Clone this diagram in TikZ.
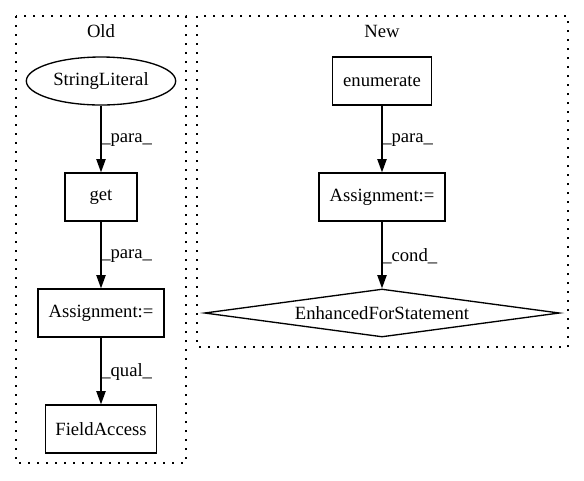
\documentclass[tikz,border=0pt]{standalone}
\usepackage{fontspec}
\setmainfont{Liberation Serif}
\usetikzlibrary{shapes.geometric,arrows.meta}
\begin{document}
\begin{tikzpicture}[x=0.75pt,y=-0.75pt,
  every node/.style={font=\fontsize{14pt}{16.8pt}\selectfont, inner sep=0pt},
  box/.style={draw, line width=1pt, rectangle, minimum height=36pt},
  ell/.style={draw, line width=1pt, ellipse, minimum height=36pt},
  dia/.style={draw, line width=1pt, diamond, shape aspect=7, minimum height=36pt},
  cluster/.style={draw, line width=1pt, dash pattern=on 1.5pt off 5.25pt},
  edge/.style={draw, line width=1pt, -{Triangle[length=10pt,width=7pt]}},
  elabel/.style={anchor=west}
]
\useasboundingbox (0,0) rectangle (584,480);
\fill[white] (0,0) rectangle (584,480);
% clusters
\draw[cluster] (16,16) rectangle (186,463);
\draw[cluster] (197,16) rectangle (568,347);
\node (oldlbl) at (101,31) {Old};
\node (newlbl) at (382,31) {New};
% Old nodes
\node[ell, minimum width=112pt] (sl) at (101,81) {StringLiteral};
\node[box, minimum width=54pt] (get) at (101,197) {get};
\node[box, minimum width=94.5pt] (as1) at (101,313) {Assignment:=};
\node[box, minimum width=83.25pt] (fa) at (101,429) {FieldAccess};
% New nodes
\node[box, minimum width=74.25pt] (en) at (382,81) {enumerate};
\node[box, minimum width=94.5pt] (as2) at (382,197) {Assignment:=};
\node[dia, minimum width=266.25pt] (efs) at (382,313) {EnhancedForStatement};
% edges
\draw[edge] (sl) -- (get);
\draw[edge] (get) -- (as1);
\draw[edge] (as1) -- (fa);
\draw[edge] (en) -- (as2);
\draw[edge] (as2) -- (efs.north);
% edge labels
\node[elabel] (l1) at (101,140) {\_para\_};
\node[elabel] (l2) at (101,256) {\_para\_};
\node[elabel] (l3) at (101,372) {\_qual\_};
\node[elabel] (l4) at (382,140) {\_para\_};
\node[elabel] (l5) at (382,256) {\_cond\_};
\end{tikzpicture}
\end{document}
